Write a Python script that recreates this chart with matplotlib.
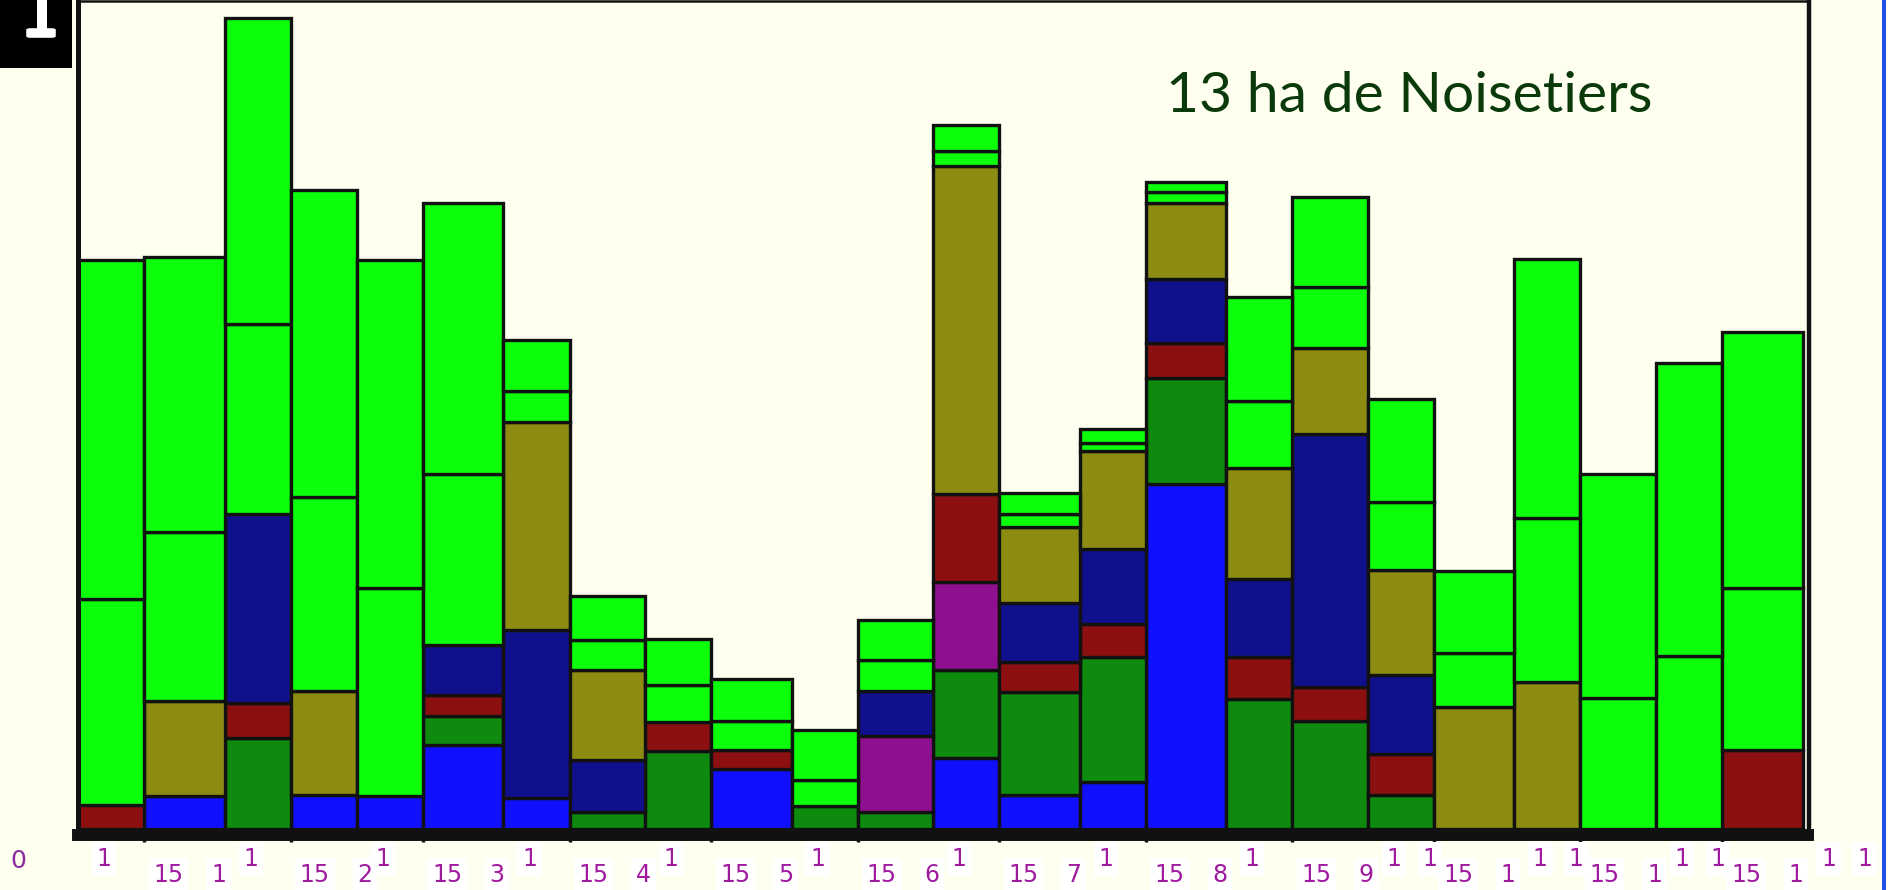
import numpy as np
import matplotlib
matplotlib.use("Agg")
import matplotlib.pyplot as plt
from matplotlib.patches import Rectangle, FancyBboxPatch

# ---------------- data ----------------
dates = ["2011-01-01", "2011-01-15", "2011-02-01", "2011-02-15", "2011-03-01", "2011-03-15",
         "2011-04-01", "2011-04-15", "2011-05-01", "2011-05-15", "2011-06-01", "2011-06-15",
         "2011-07-01", "2011-07-15", "2011-08-01", "2011-08-15", "2011-09-01", "2011-09-15",
         "2011-10-01", "2011-10-15", "2011-11-01", "2011-11-15", "2011-12-01", "2011-12-15"]
end_date = "2012-01-01"

blue     = [0, 27, 0, 28, 27, 70, 26, 0, 0, 50, 0, 0, 59, 28, 39, 287, 0, 0, 0, 0, 0, 0, 0, 0]
dkgreen  = [0, 0, 76, 0, 0, 24, 0, 14, 65, 0, 19, 14, 73, 86, 104, 88, 108, 90, 28, 0, 0, 0, 0, 0]
purple   = [0, 0, 0, 0, 0, 0, 0, 0, 0, 0, 0, 63, 73, 0, 0, 0, 0, 0, 0, 0, 0, 0, 0, 0]
red      = [20, 0, 29, 0, 0, 17, 0, 0, 24, 16, 0, 0, 73, 25, 27, 29, 35, 28, 34, 0, 0, 0, 0, 66]
dkblue   = [0, 0, 157, 0, 0, 42, 139, 43, 0, 0, 0, 38, 0, 49, 63, 53, 65, 210, 66, 0, 0, 0, 0, 0]
olive    = [0, 79, 0, 87, 0, 0, 173, 75, 0, 0, 0, 0, 273, 63, 81, 63, 92, 72, 87, 101, 122, 0, 0, 0]
green1   = [171, 141, 158, 161, 173, 142, 26, 25, 31, 24, 22, 25, 12, 11, 7, 9, 56, 50, 57, 45, 136, 109, 144, 134]
green2   = [282, 228, 254, 255, 273, 225, 42, 37, 38, 35, 41, 34, 22, 17, 11, 9, 86, 75, 85, 68, 216, 186, 243, 213]

# tick labels (day / month), including the closing date; partly hidden in the original
day_labels = ["1", "15"] * 12 + ["1"]
month_labels = [str(m) for m in range(1, 13) for _ in range(2)] + ["1"]
title = "13 ha de Noisetiers"

series = [blue, dkgreen, purple, red, dkblue, olive, green1, green2]
colors = ["#1010FF", "#0E8A0E", "#8E108E", "#8C1010", "#10108C", "#8C8C12", "#0BFF0B", "#0BFF0B"]

# ---------------- figure ----------------
W, H = 1888, 890
BG = "#FFFFF0"
fig = plt.figure(figsize=(W / 100, H / 100), dpi=100, facecolor=BG)

ax_left, ax_right, ax_top, ax_bot = 77.5, 1808.5, 1.0, 835.0
ax = fig.add_axes([ax_left / W, 1 - ax_bot / H, (ax_right - ax_left) / W, (ax_bot - ax_top) / H])
ax.set_facecolor(BG)

d = np.array(dates, dtype="datetime64[D]")
x0 = np.datetime64(dates[0], "D")
x = (d - x0).astype(int)
xend = int((np.datetime64(end_date, "D") - x0).astype(int))
widths = np.diff(np.append(x, xend))

bottom = np.zeros(len(x))
for vals, col in zip(series, colors):
    v = np.array(vals, dtype=float)
    m = v > 0
    ax.bar(x[m], v[m], width=widths[m], bottom=bottom[m], align="edge",
           color=col, edgecolor="#111111", linewidth=2.4, joinstyle="miter", zorder=2)
    bottom += v

ax.set_xlim(-0.17, 366.27)
ax.set_ylim(-5, 688)

for s in ax.spines.values():
    s.set_color("#111111")
ax.spines["bottom"].set_linewidth(8.6)
ax.spines["left"].set_linewidth(3.6)
ax.spines["top"].set_linewidth(1.8)
ax.spines["right"].set_linewidth(3.2)
ax.spines["bottom"].set_zorder(3)

tick_pos = x[1::2]
ax.set_xticks(tick_pos)
ax.set_xticklabels([])
ax.tick_params(axis="x", direction="out", length=5, width=2.5, color="#111111")
ax.set_yticks([])

LABEL_C = "#A01AA0"
fs = 17
label_x = np.append(x, xend)
n = len(label_x)
for i, (xi, dl, ml) in enumerate(zip(label_x, day_labels, month_labels)):
    upper = (i % 2 == 0)
    last = (i == n - 1)
    dy = -24 if upper else -40
    # the right-hand digit of each label is covered by the neighbouring label box
    shown_month = ml if last else ml[:-1] if upper else ml[0]
    day_off = 26 if upper else 24
    mon_off = 62 if upper else 74
    kw = dict(xycoords=("data", "axes fraction"), textcoords="offset pixels",
              ha="center", va="center", fontsize=fs, color=LABEL_C,
              annotation_clip=False,
              bbox=dict(boxstyle="square,pad=0.2", fc="white", ec="none"))
    ax.annotate(dl, xy=(xi, 0), xytext=(day_off, dy), **kw)
    if shown_month:
        ax.annotate(shown_month, xy=(xi, 0), xytext=(mon_off, dy), **kw)

# "0" baseline label
fig.text(18 / W, 1 - 861 / H, "0", ha="center", va="center", fontsize=18, color="#8A2BA0")

# title text
fig.text(1166 / W, 1 - 96 / H, title, ha="left", va="center", fontsize=41,
         color="#0A3A0A", family="Lato")

# top-left black box with partial white glyph
fig.add_artist(Rectangle((0, 1 - 68 / H), 72 / W, 68 / H, transform=fig.transFigure,
                         facecolor="black", edgecolor="none"))
fig.add_artist(Rectangle((37 / W, 1 - 32 / H), 10 / W, 32 / H, transform=fig.transFigure,
                         facecolor="white", edgecolor="none"))
fig.add_artist(FancyBboxPatch((30 / W, 1 - 36 / H), 22 / W, 6 / H, transform=fig.transFigure,
                              boxstyle="round,pad=0.002", facecolor="white", edgecolor="none"))

# right blue frame line
fig.add_artist(Rectangle((1882 / W, 0), 4 / W, 1, transform=fig.transFigure,
                         facecolor="#2050E8", edgecolor="none"))

fig.savefig("out.png", dpi=100, facecolor=BG)
